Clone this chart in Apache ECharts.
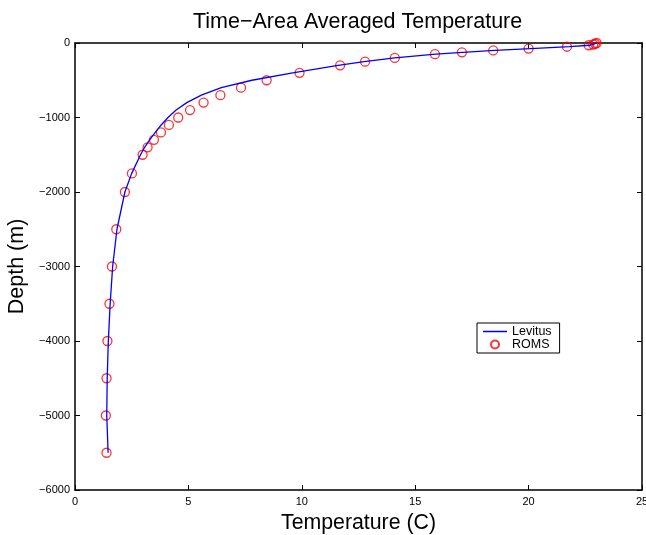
<!DOCTYPE html>
<html>
<head>
<meta charset="utf-8">
<script src="https://cdn.jsdelivr.net/npm/echarts@6/dist/echarts.min.js"></script>
<style>
  html, body { margin: 0; padding: 0; background: #fff; }
  #chart { width: 646px; height: 535px; }
</style>
</head>
<body>
<div id="chart"></div>
<script>
// depth levels (m), standard Levitus levels
const depths = [0, 10, 20, 30, 50, 75, 100, 125, 150, 200, 250, 300, 400, 500, 600, 700, 800, 900,
  1000, 1100, 1200, 1300, 1400, 1500, 1750, 2000, 2500, 3000, 3500, 4000, 4500, 5000, 5500];
// Levitus climatology temperature (C)
const levitusTemp = [23.0, 22.95, 22.85, 22.7, 21.8, 20.1, 18.5, 17.1, 15.9, 14.1, 12.75, 11.6, 9.6, 7.8,
  6.45, 5.57, 4.93, 4.46, 4.1, 3.8, 3.54, 3.29, 3.07, 2.89, 2.5, 2.2, 1.85, 1.66, 1.55, 1.47, 1.42, 1.4, 1.46];
// ROMS model temperature (C)
const romsTemp = [23.0, 22.93, 22.85, 22.65, 21.69, 20.0, 18.44, 17.06, 15.87, 14.1, 12.79, 11.69, 9.9, 8.45,
  7.32, 6.41, 5.67, 5.07, 4.55, 4.14, 3.79, 3.48, 3.2, 2.98, 2.51, 2.2, 1.82, 1.63, 1.52, 1.43, 1.39, 1.36, 1.39];

const fontFam = '"Liberation Sans", Helvetica, Arial, sans-serif';

let chart = echarts.init(document.getElementById('chart'));

const tickStyle = { show: true, inside: true, length: 5, lineStyle: { color: '#000', width: 1 } };
const lineStyle = { show: true, onZero: false, lineStyle: { color: '#000', width: 1.5 } };

let option = {
  backgroundColor: '#fff',
  animation: false,
  title: {
    text: 'Time\u2212Area Averaged Temperature',
    left: 188,
    top: 6,
    textStyle: { fontFamily: fontFam, fontSize: 21.5, fontWeight: 'normal', color: '#000' }
  },
  grid: { left: 75, right: 4, top: 43, bottom: 45, outerBoundsMode: 'none' },
  legend: {
    orient: 'vertical',
    left: 477,
    top: 323,
    itemGap: 0,
    itemWidth: 24,
    itemHeight: 8,
    padding: [2, 8, 2, 6],
    borderColor: '#000',
    borderWidth: 1,
    backgroundColor: '#fff',
    textStyle: { fontFamily: fontFam, fontSize: 12.5, lineHeight: 13, color: '#000' },
    data: [
      { name: 'Levitus', icon: 'path://M0,0 L22,0 L22,1.4 L0,1.4 Z' },
      { name: 'ROMS' }
    ]
  },
  xAxis: [{
    type: 'value',
    position: 'bottom',
    min: 0, max: 25, interval: 5,
    name: 'Temperature (C)',
    nameLocation: 'middle',
    nameGap: 23,
    nameTextStyle: { fontFamily: fontFam, fontSize: 21.3, color: '#000' },
    axisLine: lineStyle,
    axisTick: tickStyle,
    axisLabel: { fontFamily: fontFam, fontSize: 11, color: '#000', margin: 6 },
    splitLine: { show: false }
  }, {
    type: 'value',
    position: 'top',
    min: 0, max: 25, interval: 5,
    axisLine: lineStyle,
    axisTick: tickStyle,
    axisLabel: { show: false },
    splitLine: { show: false }
  }],
  yAxis: [{
    type: 'value',
    position: 'left',
    min: -6000, max: 0, interval: 1000,
    name: 'Depth (m)',
    nameLocation: 'middle',
    nameGap: 45,
    nameTextStyle: { fontFamily: fontFam, fontSize: 21.5, color: '#000' },
    axisLine: lineStyle,
    axisTick: tickStyle,
    axisLabel: {
      fontFamily: fontFam, fontSize: 11, color: '#000', margin: 5,
      formatter: v => String(v).replace('-', '\u2212')
    },
    splitLine: { show: false }
  }, {
    type: 'value',
    position: 'right',
    min: -6000, max: 0, interval: 1000,
    axisLine: lineStyle,
    axisTick: tickStyle,
    axisLabel: { show: false },
    splitLine: { show: false }
  }],
  series: [{
    name: 'Levitus',
    type: 'line',
    symbol: 'none',
    smooth: false,
    color: '#0000ff',
    lineStyle: { color: '#0000ff', width: 1.3 },
    data: depths.map((d, i) => [levitusTemp[i], -d])
  }, {
    name: 'ROMS',
    type: 'scatter',
    symbol: 'circle',
    symbolSize: 9,
    itemStyle: { color: 'rgba(0,0,0,0)', borderColor: '#ff0000', borderWidth: 1.3 },
    data: depths.map((d, i) => [romsTemp[i], -d])
  }]
};

chart.setOption(option);
window.addEventListener('resize', function () {
  chart.resize();
});
</script>
</body>
</html>
